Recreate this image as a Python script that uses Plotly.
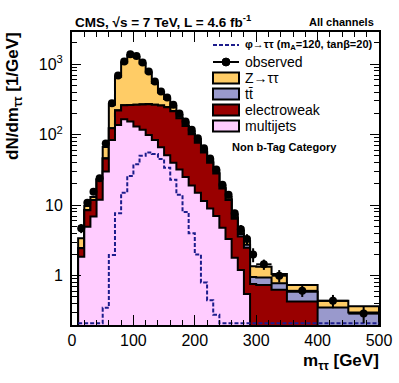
import math
import plotly.graph_objects as go

# ---------------- data (dN/dm per bin, 1/GeV) ----------------
bin_edges = [10, 20, 30, 40, 50, 60, 70, 80, 90, 100, 110, 120, 130, 140, 150,
             160, 170, 180, 190, 200, 210, 220, 230, 240, 250, 260, 270, 280,
             290, 300, 325, 350, 400, 450, 500]

observed = [4.7, 10.8, 15.5, 24, 75, 279, 687, 1085, 1380, 1307, 1050, 783,
            565, 408, 335, 265, 200, 153, 117, 89, 64, 46, 32, 19.4, 14, 7.7,
            4.55, 3.3, 2.0, 1.45, 1.0, 0.61, 0.44, 0.29]

multijets = [1.86, 4.95, 6.9, 11.9, 30, 84, 137, 165, 153, 130, 117, 99, 84,
             66, 51, 40, 32, 25, 19, 15, 11.5, 9, 7, 4.8, 3.3, 1.8, 1.2, 0.55,
             0, 0, 0, 0, 0, 0]

electroweak = [0.59, 3.55, 4.9, 10.8, 16, 39, 83, 95, 109, 135, 151, 171, 181,
               192, 194, 175, 138, 107, 82, 62, 44.5, 31, 21, 12.4, 8.5, 4.6,
               2.4, 1.95, 0.76, 0.74, 0.63, 0.43, 0.1, 0.1]

ttbar = [0.02, 0.02, 0.05, 0.1, 0.2, 0.5, 1, 1, 1, 1, 1, 1, 1, 1, 1, 1, 1, 1,
         1, 1, 0.6, 0.5, 0.4, 0.3, 0.3, 0.3, 0.3, 0.25, 0.2, 0.2, 0.15, 0.16,
         0.255, 0.2]

ztautau = [0.93, 1.18, 1.15, 0.7, 20.8, 141.5, 439, 789, 1067, 1004, 751, 489,
           274, 136, 74, 39, 19, 15, 10, 7, 4.4, 3.5, 2.6, 1.5, 1.1, 0.6, 0.4,
           0.35, 0.4, 0.4, 0.28, 0.15, 0.085, 0.07]

signal = [0.05, 0.05, 0.05, 0.05, 0.35, 1.97, 7.7, 15, 26, 38, 50, 56, 53, 45,
          34, 23, 14, 8, 4, 2, 0.8, 0.45, 0.28, 0.05, 0.05, 0.05, 0.05, 0.05,
          0.05, 0.05, 0.05, 0.05, 0.05, 0.05]

x_tick_vals = [0, 100, 200, 300, 400, 500]
y_tick_vals = [1, 10, 100, 1000]
y_tick_text = ["1", "10", "10<sup>2</sup>", "10<sup>3</sup>"]

# ---------------- styling ----------------
Y_MIN, Y_MAX = 0.2, 2850
FONT = "Liberation Sans, Arial, Helvetica, sans-serif"
C_ZTT = "#FFCC66"
C_TT = "#9999CC"
C_EWK = "#990000"
C_QCD = "#FFCCFF"
C_SIG = "#1c1c8c"

W, H = 399, 383
ML, MR, MT, MB = 72, 20, 32, 58
PW, PH = W - ML - MR, H - MT - MB


def px_x(px):
    return (px - ML) / PW


def px_y(py):
    return (H - MB - py) / PH


def step_outline(edges, vals, floor, close=True):
    xs, ys = [], []
    if close:
        xs.append(edges[0]); ys.append(floor)
    for i, v in enumerate(vals):
        v = max(v, floor)
        xs += [edges[i], edges[i + 1]]
        ys += [v, v]
    if close:
        xs.append(edges[-1]); ys.append(floor)
    return xs, ys


n = len(observed)
cum_qcd = [multijets[i] for i in range(n)]
cum_ewk = [cum_qcd[i] + electroweak[i] for i in range(n)]
cum_tt = [cum_ewk[i] + ttbar[i] for i in range(n)]
cum_ztt = [cum_tt[i] + ztautau[i] for i in range(n)]

fig = go.Figure()
floor = 1e-3
for cum, col in [(cum_ztt, C_ZTT), (cum_tt, C_TT), (cum_ewk, C_EWK), (cum_qcd, C_QCD)]:
    xs, ys = step_outline(bin_edges, cum, floor)
    fig.add_trace(go.Scatter(x=xs, y=ys, mode="lines", fill="toself",
                             fillcolor=col, line=dict(color="black", width=2),
                             hoverinfo="skip", showlegend=False))

# signal (not stacked), values below the axis minimum drawn at the bottom
xs, ys = step_outline(bin_edges, signal, Y_MIN * 1.06, close=False)
fig.add_trace(go.Scatter(x=xs, y=ys, mode="lines",
                         line=dict(color=C_SIG, width=2, dash="4px,2px"),
                         hoverinfo="skip", showlegend=False))

centers = [(bin_edges[i] + bin_edges[i + 1]) / 2 for i in range(n)]
widths = [bin_edges[i + 1] - bin_edges[i] for i in range(n)]
errs = [math.sqrt(observed[i] * widths[i]) / widths[i] for i in range(n)]
fig.add_trace(go.Scatter(x=centers, y=observed, mode="markers",
                         marker=dict(color="black", size=8, symbol="circle"),
                         error_y=dict(type="data", array=errs, color="black",
                                      thickness=2, width=0),
                         error_x=dict(type="data", array=[w / 2 for w in widths],
                                      color="black", thickness=2, width=0),
                         showlegend=False))

# ---------------- custom legend ----------------
shapes = []
annotations = []
LX0, LX1, TX = 213, 239, 243
shapes.append(dict(type="line", xref="paper", yref="paper",
                   x0=px_x(LX0), x1=px_x(LX1), y0=px_y(45), y1=px_y(45),
                   line=dict(color=C_SIG, width=2, dash="4px,2px")))
annotations.append(dict(text="<b>φ→ττ (m<sub>A</sub>=120, tanβ=20)</b>",
                        x=px_x(TX), y=px_y(45), xref="paper", yref="paper",
                        xanchor="left", yanchor="middle", showarrow=False,
                        font=dict(size=11, family=FONT, color="black")))
shapes.append(dict(type="line", xref="paper", yref="paper",
                   x0=px_x(LX0), x1=px_x(LX1), y0=px_y(62), y1=px_y(62),
                   line=dict(color="black", width=2)))
shapes.append(dict(type="circle", xref="paper", yref="paper",
                   x0=px_x(222), x1=px_x(230), y0=px_y(58), y1=px_y(66),
                   fillcolor="black", line=dict(color="black", width=1)))
annotations.append(dict(text="observed", x=px_x(TX), y=px_y(62),
                        xref="paper", yref="paper", xanchor="left",
                        yanchor="middle", showarrow=False,
                        font=dict(size=14, family=FONT, color="black")))
for yc, col, label in [(78, C_ZTT, "Z→ττ"), (94, C_TT, "tt\u0304"),
                       (110, C_EWK, "electroweak"), (126, C_QCD, "multijets")]:
    shapes.append(dict(type="rect", xref="paper", yref="paper",
                       x0=px_x(LX0), x1=px_x(LX1), y0=px_y(yc + 5.5), y1=px_y(yc - 5.5),
                       fillcolor=col, line=dict(color="black", width=2)))
    annotations.append(dict(text=label, x=px_x(TX), y=px_y(yc),
                            xref="paper", yref="paper", xanchor="left",
                            yanchor="middle", showarrow=False,
                            font=dict(size=14, family=FONT, color="black")))
annotations.append(dict(text="<b>Non b-Tag Category</b>", x=px_x(284), y=px_y(147),
                        xref="paper", yref="paper", xanchor="center",
                        yanchor="middle", showarrow=False,
                        font=dict(size=11, family=FONT, color="black")))

# titles
annotations.append(dict(text="<b>CMS, √s = 7 TeV, L = 4.6 fb<sup>-1</sup></b>",
                        x=px_x(73), y=px_y(21), xref="paper", yref="paper",
                        xanchor="left", yanchor="middle", showarrow=False,
                        font=dict(size=13.5, family=FONT, color="black")))
annotations.append(dict(text="<b>All channels</b>", x=px_x(376), y=px_y(22),
                        xref="paper", yref="paper", xanchor="right",
                        yanchor="middle", showarrow=False,
                        font=dict(size=11, family=FONT, color="black")))
annotations.append(dict(text="<b>m<sub>ττ</sub> [GeV]</b>", x=px_x(381), y=px_y(362),
                        xref="paper", yref="paper", xanchor="right",
                        yanchor="middle", showarrow=False,
                        font=dict(size=17, family=FONT, color="black")))
annotations.append(dict(text="<b>dN/dm<sub>ττ</sub> [1/GeV]</b>", x=px_x(14), y=px_y(30),
                        xref="paper", yref="paper", xanchor="center",
                        yanchor="top", textangle=-90, showarrow=False,
                        font=dict(size=17, family=FONT, color="black")))

fig.update_layout(
    width=W, height=H,
    margin=dict(l=ML, r=MR, t=MT, b=MB, pad=0),
    paper_bgcolor="white", plot_bgcolor="white",
    showlegend=False,
    shapes=shapes, annotations=annotations,
    font=dict(family=FONT, color="black"),
    xaxis=dict(range=[0, 500], tickvals=x_tick_vals, ticks="inside", ticklen=10,
               tickwidth=1, tickcolor="black", showline=True, linecolor="black",
               linewidth=2, mirror="allticks", showgrid=False, zeroline=False,
               automargin=False,
               tickfont=dict(size=16, family=FONT, color="black"),
               minor=dict(dtick=20, ticks="inside", ticklen=5, tickcolor="black",
                          showgrid=False)),
    yaxis=dict(type="log", range=[math.log10(Y_MIN), math.log10(Y_MAX)],
               tickvals=y_tick_vals, ticktext=y_tick_text, ticks="inside",
               ticklen=9, tickwidth=1, tickcolor="black", showline=True,
               linecolor="black", linewidth=2, mirror="allticks", showgrid=False,
               zeroline=False, automargin=False,
               tickfont=dict(size=16, family=FONT, color="black"),
               ticklabelstandoff=4,
               minor=dict(dtick="D1", ticks="inside", ticklen=5, tickcolor="black",
                          showgrid=False)),
)

fig.write_html("out.html",
               config={"displayModeBar": False, "staticPlot": True},
               post_script="document.body.style.margin='0';document.body.style.padding='0';")
